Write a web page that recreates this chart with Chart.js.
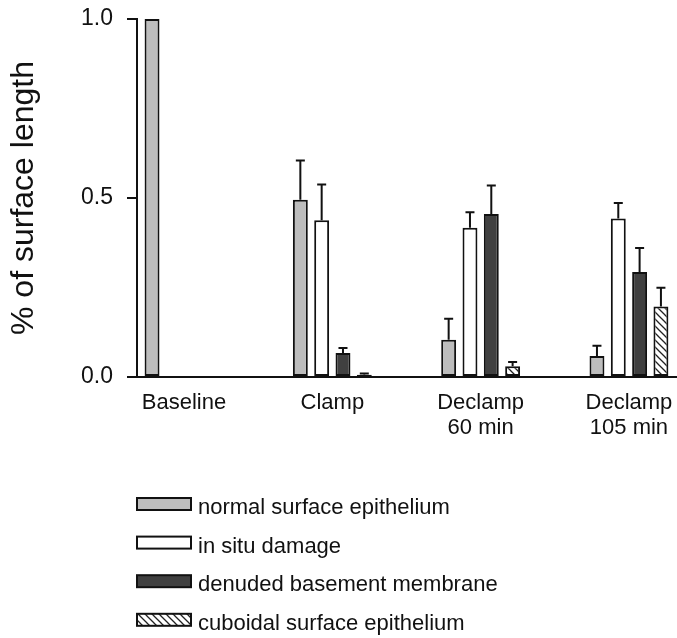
<!DOCTYPE html>
<html>
<head>
<meta charset="utf-8">
<script src="https://cdn.jsdelivr.net/npm/chart.js@4.4.1/dist/chart.umd.min.js"></script>
<style>
  html, body { margin: 0; padding: 0; background: #fff; overflow: hidden; }
  canvas { display: block; }
</style>
</head>
<body>
<canvas id="surfaceChart" width="677" height="638"></canvas>
<script>
// Surface condition per time point, as fraction of surface length (mean + SD)
const categories = ['Baseline', 'Clamp', 'Declamp\n60 min', 'Declamp\n105 min'];

const normalMean   = [1.0,  0.495, 0.104, 0.059];
const normalErr    = [0,    0.110, 0.059, 0.028];
const inSituMean   = [null, 0.438, 0.417, 0.443];
const inSituErr    = [0,    0.100, 0.043, 0.043];
const denudedMean  = [null, 0.067, 0.455, 0.293];
const denudedErr   = [0,    0.014, 0.080, 0.067];
const cuboidalMean = [null, 0.006, 0.030, 0.197];
const cuboidalErr  = [0,    0.004, 0.012, 0.052];

const yTicks = [0, 0.5, 1.0];

const FONT = '"Liberation Sans", Arial, Helvetica, sans-serif';
const INK = '#111';

const canvas = document.getElementById('surfaceChart');
const ctx = canvas.getContext('2d');

// diagonal "\\\" hatch used for cuboidal epithelium
function hatchPattern() {
  const s = 7;
  const c = document.createElement('canvas');
  c.width = s; c.height = s;
  const g = c.getContext('2d');
  g.fillStyle = '#fff';
  g.fillRect(0, 0, s, s);
  g.strokeStyle = '#222';
  g.lineWidth = 1.3;
  g.beginPath();
  g.moveTo(-1, -1);    g.lineTo(s + 1, s + 1);
  g.moveTo(-1, s - 1); g.lineTo(1, s + 1);
  g.moveTo(s - 1, -1); g.lineTo(s + 1, 1);
  g.stroke();
  return ctx.createPattern(c, 'repeat');
}

const toPoints = arr => arr.map((v, i) => ({ x: i, y: v }));

const barStyle = {
  categoryPercentage: 0.575,
  barPercentage: 0.70,
  borderWidth: 2,
  borderColor: INK,
  borderSkipped: false,
  clip: false,
};

// upward-only SD whiskers with a short cap
const errorBars = {
  id: 'errorBars',
  afterDatasetsDraw(chart) {
    const { ctx, scales: { y } } = chart;
    ctx.save();
    ctx.strokeStyle = INK;
    ctx.lineWidth = 2;
    chart.data.datasets.forEach((ds, di) => {
      chart.getDatasetMeta(di).data.forEach((bar, i) => {
        const v = ds.data[i].y, e = ds.errors[i];
        if (v == null || !e) return;
        const top = y.getPixelForValue(v + e);
        ctx.beginPath();
        ctx.moveTo(bar.x, bar.y);
        ctx.lineTo(bar.x, top);
        ctx.moveTo(bar.x - 4.5, top);
        ctx.lineTo(bar.x + 4.5, top);
        ctx.stroke();
      });
    });
    ctx.restore();
  },
};

// stacked legend under the plot
const sideLegend = {
  id: 'sideLegend',
  afterDraw(chart) {
    const { ctx } = chart;
    ctx.save();
    ctx.font = `22px ${FONT}`;
    ctx.textBaseline = 'alphabetic';
    chart.data.datasets.forEach((ds, i) => {
      const top = 498 + i * 38.6;
      ctx.fillStyle = ds.backgroundColor;
      ctx.fillRect(137, top, 54, 12);
      ctx.strokeStyle = INK;
      ctx.lineWidth = 2;
      ctx.strokeRect(137, top, 54, 12);
      ctx.fillStyle = INK;
      ctx.fillText(ds.label, 198, top + 16);
    });
    ctx.restore();
  },
};

new Chart(ctx, {
  type: 'bar',
  data: {
    datasets: [
      { label: 'normal surface epithelium',    data: toPoints(normalMean),   errors: normalErr,   backgroundColor: '#bdbdbd', ...barStyle },
      { label: 'in situ damage',               data: toPoints(inSituMean),   errors: inSituErr,   backgroundColor: '#ffffff', ...barStyle },
      { label: 'denuded basement membrane',    data: toPoints(denudedMean),  errors: denudedErr,  backgroundColor: '#404040', ...barStyle },
      { label: 'cuboidal surface epithelium',  data: toPoints(cuboidalMean), errors: cuboidalErr, backgroundColor: hatchPattern(), ...barStyle },
    ],
  },
  options: {
    responsive: false,
    animation: false,
    layout: { padding: { top: 19, left: 0, right: 0, bottom: 0 } },
    plugins: {
      legend:  { display: false },
      tooltip: { enabled: false },
    },
    scales: {
      x: {
        type: 'linear',
        offset: false,
        min: -0.317,
        max: 3.324,
        grid:   { display: false, drawTicks: false, offset: false },
        border: { display: true, color: INK, width: 2 },
        ticks: {
          color: INK,
          font: { family: FONT, size: 22, lineHeight: 1.14 },
          padding: 13,
          maxRotation: 0,
          autoSkip: false,
          callback: (v, i) => categories[i].split('\n'),
        },
        afterBuildTicks: s => { s.ticks = categories.map((_, i) => ({ value: i })); },
        afterFit: s => { s.height = 261; s.paddingLeft = 0; s.paddingRight = 0; },
      },
      y: {
        min: 0,
        max: 1.0,
        grid:   { drawOnChartArea: false, drawTicks: true, tickLength: 10, color: INK, lineWidth: 2 },
        border: { display: true, color: INK, width: 2 },
        ticks: {
          color: INK,
          font: { family: FONT, size: 23 },
          padding: 14,
          callback: v => v.toFixed(1),
        },
        afterBuildTicks: s => { s.ticks = yTicks.map(v => ({ value: v })); },
        title: {
          display: true,
          text: '% of surface length',
          color: INK,
          font: { family: FONT, size: 32 },
          padding: { top: 5, bottom: 0 },
        },
        afterFit: s => { s.width = 137; s.paddingTop = 0; s.paddingBottom = 0; },
      },
    },
  },
  plugins: [errorBars, sideLegend],
});
</script>
</body>
</html>
